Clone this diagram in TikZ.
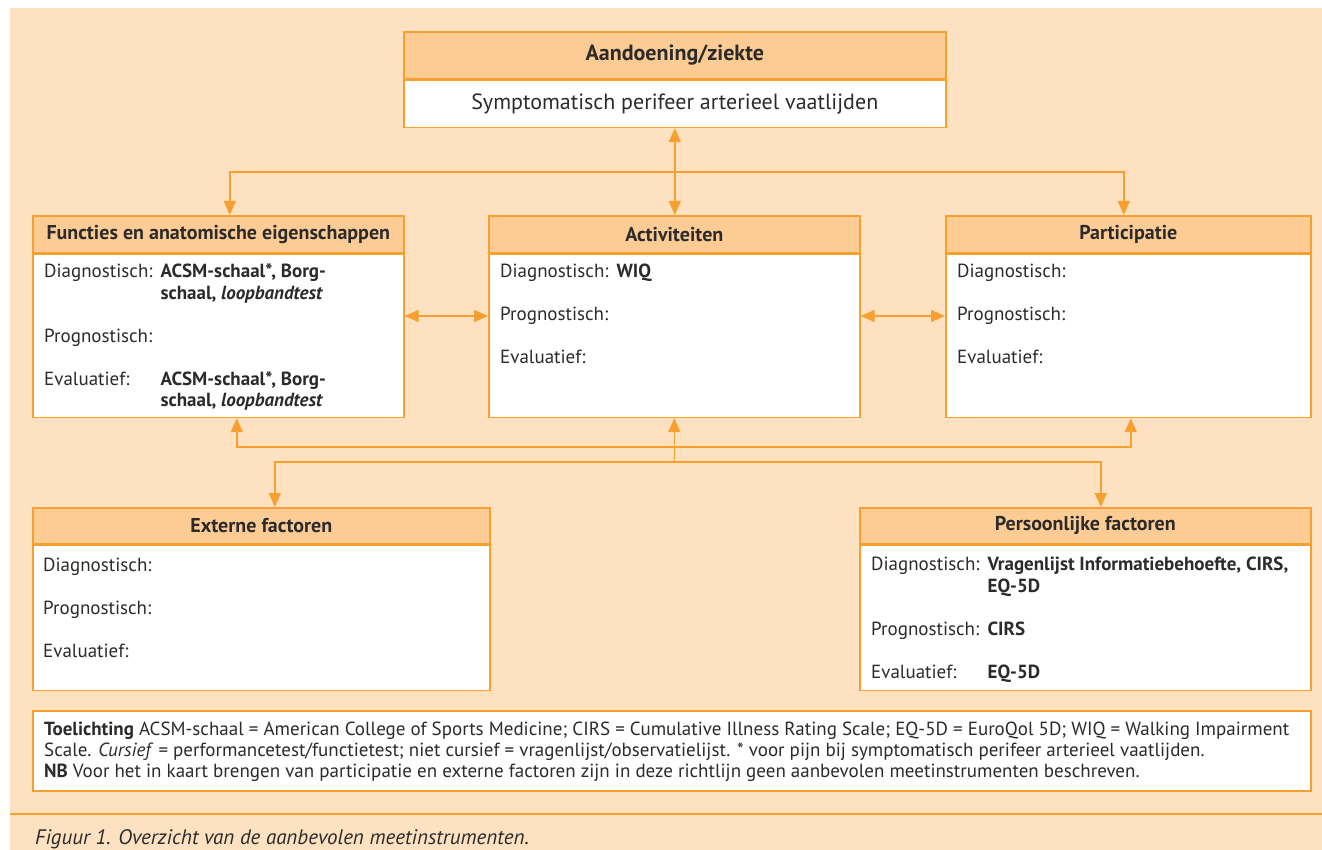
\documentclass[tikz,border=0pt]{standalone}
\usepackage{fontspec}
\setmainfont{PT Sans}
\usetikzlibrary{arrows.meta,positioning}

\definecolor{perzik}{HTML}{FDE1C0}
\definecolor{kopkleur}{HTML}{FDCB94}
\definecolor{oranje}{HTML}{F7A030}
\definecolor{tekst}{HTML}{2B2B2B}

\begin{document}
\begin{tikzpicture}[x=1pt,y=-1pt,
  kader/.style={draw=oranje,line width=1.6pt,inner sep=0pt,anchor=north west},
  kop/.style={kader,fill=kopkleur,text=tekst,font=\fontsize{20}{22}\selectfont\bfseries},
  vak/.style={kader,fill=white},
  inhoud/.style={anchor=north west,inner sep=0pt,text=tekst,font=\fontsize{19}{21.5}\selectfont},
  lijn/.style={draw=oranje,line width=1.6pt,>={Triangle[length=14pt,width=12pt]}}]
\useasboundingbox (0,0) rectangle (1322,850);
\fill[perzik] (10,8) rectangle (1322,850);

% bovenste vak
\node[kop,minimum width=542pt,minimum height=47pt,font=\fontsize{22}{24}\selectfont\bfseries] (zkop) at (403,31) {Aandoening/ziekte};
\node[vak,minimum width=542pt,minimum height=47pt,below=0pt of zkop,text=tekst,font=\fontsize{22}{24}\selectfont] (zvak) {Symptomatisch perifeer arterieel vaatlijden};

% middelste rij
\node[kop,minimum width=371pt,minimum height=37pt] (fkop) at (32,215) {Functies en anatomische eigenschappen};
\node[vak,minimum width=371pt,minimum height=163pt,below=0pt of fkop] (fvak) {};
\node[kop,minimum width=371pt,minimum height=37pt] (akop) at (488,215) {Activiteiten};
\node[vak,minimum width=371pt,minimum height=163pt,below=0pt of akop] (avak) {};
\node[kop,minimum width=365pt,minimum height=37pt] (pkop) at (945,215) {Participatie};
\node[vak,minimum width=365pt,minimum height=163pt,below=0pt of pkop] (pvak) {};

% onderste rij
\node[kop,minimum width=457pt,minimum height=36pt] (ekop) at (32,507) {Externe factoren};
\node[vak,minimum width=457pt,minimum height=145pt,below=0pt of ekop] (evak) {};
\node[kop,minimum width=451pt,minimum height=36pt] (perskop) at (859,507) {Persoonlijke factoren};
\node[vak,minimum width=451pt,minimum height=145pt,below=0pt of perskop] (persvak) {};

% inhoud van de vakken
\node[inhoud] (ftekst) at ([xshift=12pt,yshift=-9pt]fvak.north west) {\begin{tabular}{@{}l@{\hspace{8pt}}l@{}}
Diagnostisch: & \textbf{ACSM-schaal*, Borg-}\\
 & \textbf{schaal, \textit{loopbandtest}}\\[21.5pt]
Prognostisch: & \\[21.5pt]
Evaluatief: & \textbf{ACSM-schaal*, Borg-}\\
 & \textbf{schaal, \textit{loopbandtest}}
\end{tabular}};
\node[inhoud] (atekst) at ([xshift=12pt,yshift=-9pt]avak.north west) {\begin{tabular}{@{}l@{\hspace{8pt}}l@{}}
Diagnostisch: & \textbf{WIQ}\\[21.5pt]
Prognostisch: & \\[21.5pt]
Evaluatief: &
\end{tabular}};
\node[inhoud] (ptekst) at ([xshift=12pt,yshift=-9pt]pvak.north west) {\begin{tabular}{@{}l@{}}
Diagnostisch:\\[21.5pt]
Prognostisch:\\[21.5pt]
Evaluatief:
\end{tabular}};
\node[inhoud] (etekst) at ([xshift=11pt,yshift=-12pt]evak.north west) {\begin{tabular}{@{}l@{}}
Diagnostisch:\\[21.5pt]
Prognostisch:\\[21.5pt]
Evaluatief:
\end{tabular}};
\node[inhoud] (perstekst) at ([xshift=12pt,yshift=-11pt]persvak.north west) {\begin{tabular}{@{}l@{\hspace{8pt}}l@{}}
Diagnostisch: & \textbf{Vragenlijst Informatiebehoefte, CIRS,}\\
 & \textbf{EQ-5D}\\[21.5pt]
Prognostisch: & \textbf{CIRS}\\[21.5pt]
Evaluatief: & \textbf{EQ-5D}
\end{tabular}};

% toelichting en bijschrift
\node[vak,minimum width=1278pt,minimum height=80pt] (toel) at (32,710) {};
\node[inhoud,align=left,font=\fontsize{19}{21}\selectfont] (toeltekst) at ([xshift=12pt,yshift=-12pt]toel.north west)
{\textbf{Toelichting} ACSM-schaal = American College of Sports Medicine; CIRS = Cumulative Illness Rating Scale; EQ-5D = EuroQol 5D; WIQ = Walking Impairment\\
Scale. \textit{Cursief} = performancetest/functietest; niet cursief = vragenlijst/observatielijst. * voor pijn bij symptomatisch perifeer arterieel vaatlijden.\\
\textbf{NB} Voor het in kaart brengen van participatie en externe factoren zijn in deze richtlijn geen aanbevolen meetinstrumenten beschreven.};
\draw[oranje,line width=1.6pt] (10,814) -- (1322,814);
\node[inhoud,font=\fontsize{21}{22}\selectfont\itshape] (bijschrift) at (35,829) {Figuur 1. Overzicht van de aanbevolen meetinstrumenten.};

% verbindingen
\coordinate (boven) at (0,172);
\coordinate (zij) at (0,316);
\coordinate (onder) at (0,447);
\coordinate (kruis) at (0,462);
\draw[lijn,<->] (zvak.south) -- (zvak.south |- akop.north);
\draw[lijn,->] (zvak.south |- boven) -| ([xshift=11.5pt]fkop.north);
\draw[lijn,->] (zvak.south |- boven) -| ([xshift=-4.5pt]pkop.north);
\draw[lijn,<->] (fvak.east |- zij) -- (avak.west |- zij);
\draw[lijn,<->] (avak.east |- zij) -- (pvak.west |- zij);
\draw[lijn,->] (avak.south |- kruis) -- (avak.south);
\draw[lijn,->] (avak.south |- onder) -| ([xshift=18.5pt]fvak.south);
\draw[lijn,->] (avak.south |- onder) -| ([xshift=2.5pt]pvak.south);
\draw[lijn,->] (avak.south |- kruis) -| ([xshift=13.5pt]ekop.north);
\draw[lijn,->] (avak.south |- kruis) -| ([xshift=15.5pt]perskop.north);
\end{tikzpicture}
\end{document}
